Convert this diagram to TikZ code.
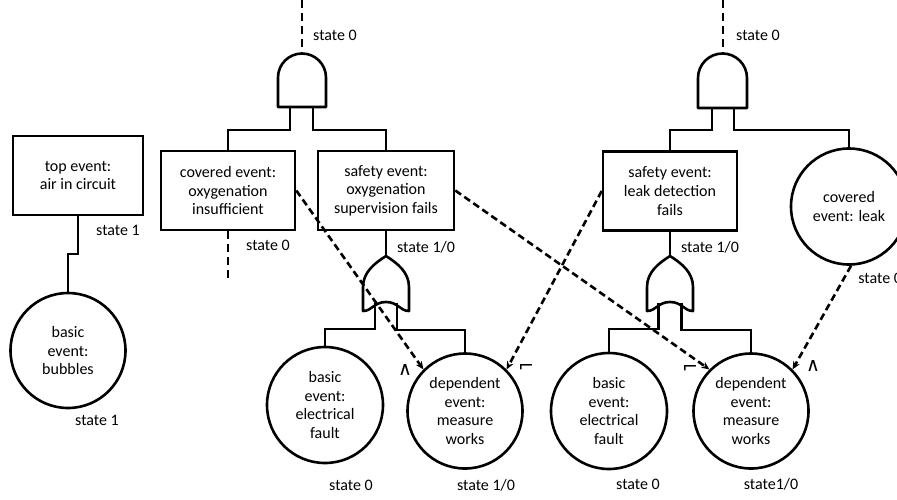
\documentclass[tikz,border=0pt]{standalone}
\usepackage{fontspec}
\setmainfont{Carlito}
\newfontfamily\symfont{DejaVu Sans}
\usetikzlibrary{arrows.meta}
\begin{document}
\begin{tikzpicture}[x=1pt,y=-1pt,line width=2.6pt,
  txt/.style={font=\fontsize{16}{18.7}\selectfont,align=center},
  evbox/.style={draw,rectangle,txt,inner sep=0pt,minimum width=134pt,minimum height=79pt},
  evcirc/.style={draw,circle,txt,inner sep=0pt,minimum size=115pt},
  lbl/.style={font=\fontsize{16}{18.7}\selectfont,inner sep=0pt},
  sym/.style={font=\symfont\fontsize{19}{19}\selectfont,inner sep=0pt},
  dashline/.style={dash pattern=on 8pt off 5pt},
  dasharrow/.style={dash pattern=on 7pt off 4pt,-{Stealth[length=8pt,width=7pt]}},
  gate/.style={line join=round},
  wire/.style={line join=miter}]
\useasboundingbox (0,0) rectangle (897,499);
\clip (0,0) rectangle (897,499);
\fill[white] (0,0) rectangle (897,499);

% ---------- left tree ----------
\node[evbox,minimum width=130pt] (top) at (78,175.5) {top event:\\air in circuit};
\node[evcirc] (bub) at (68,350.5) {basic\\event:\\bubbles};
\draw[wire] (top.south) -- (78,254) -- (68,254) -- (bub.north);
\node[lbl] (s1a) at (118,230) {state 1};
\node[lbl] (s1b) at (97,420) {state 1};

% ---------- middle AND ----------
\coordinate (andLin) at (302,0);
\coordinate (andLout) at (302,53.5);
\draw[gate] (278,107) -- (278,77.5) arc[start angle=180,end angle=0,radius=24pt] -- (326,107) -- cycle;
\draw[dashline] (andLin) -- (andLout);
\node[lbl] (sL0) at (335,35) {state 0};
\coordinate (andLa) at (290,107);
\coordinate (andLb) at (313,107);

\node[evbox] (covoxy) at (228,190.5) {covered event:\\oxygenation\\insufficient};
\node[evbox,minimum width=136pt] (safoxy) at (386,190.5) {safety event:\\oxygenation\\supervision fails};
\draw[wire] (andLa) -- (290,130) -| (covoxy.north);
\draw[wire] (andLb) -- (313,130) -| (safoxy.north);

\coordinate (covoxyend) at (228,281);
\draw[dashline] (covoxy.south) -- (covoxyend);
\node[lbl] (sC0) at (268,245) {state 0};

% left OR gate
\draw[gate] (363,311) -- (363,287) .. controls (363,272) and (375,263) .. (386,256)
  .. controls (397,263) and (409,272) .. (409,287) -- (409,311)
  .. controls (400,311) and (398,302) .. (386,302)
  .. controls (374,302) and (372,311) .. (363,311) -- cycle;
\coordinate (orLtip) at (386,256);
\coordinate (orLa) at (375,303);
\coordinate (orLb) at (397,303);
\draw (safoxy.south) -- (orLtip);
\node[lbl] (sL10) at (426,247) {state 1/0};

\node[evcirc,minimum size=116pt] (basL) at (325,405) {basic\\event:\\electrical\\fault};
\node[evcirc] (depL) at (465,411) {dependent\\event:\\measure\\works};
\draw[wire] (orLa) -- (375,329) -| (basL.north);
\draw[wire] (orLb) -- (397,330) -| (depL.north);
\node[lbl] (sbL0) at (351,485) {state 0};
\node[lbl] (sbL10) at (486,485) {state 1/0};
\node[sym] (wL) at (405,370) {∧};
\node[sym] (nL) at (526,368) {⌐};

% ---------- right AND ----------
\coordinate (andRin) at (723,0);
\coordinate (andRout) at (723,53.5);
\draw[gate] (698,108) -- (698,78) arc[start angle=180,end angle=0,radius=24.5pt] -- (747,108) -- cycle;
\draw[dashline] (andRin) -- (andRout);
\node[lbl] (sR0) at (758,35) {state 0};
\coordinate (andRa) at (712,108);
\coordinate (andRb) at (734,108);

\node[evbox] (safleak) at (670,191) {safety event:\\leak detection\\fails};
\node[evcirc,minimum size=116pt] (leak) at (849,206.5) {covered\\event: leak};
\draw[wire] (andRa) -- (712,130) -| (safleak.north);
\draw[wire] (andRb) -- (734,130) -| (leak.north);
\node[lbl,anchor=west] (sleak) at (857,278) {state 0};

% right OR gate
\draw[gate] (647,311) -- (647,287) .. controls (647,272) and (659,263) .. (670,256)
  .. controls (681,263) and (693,272) .. (693,287) -- (693,311)
  .. controls (684,311) and (682,302) .. (670,302)
  .. controls (658,302) and (656,311) .. (647,311) -- cycle;
\coordinate (orRtip) at (670,256);
\coordinate (orRa) at (658.5,303);
\coordinate (orRb) at (681.5,303);
\draw (safleak.south) -- (orRtip);
\node[lbl] (sR10) at (710,247) {state 1/0};

\node[evcirc,minimum size=116pt] (basR) at (609,411) {basic\\event:\\electrical\\fault};
\node[evcirc] (depR) at (751,411) {dependent\\event:\\measure\\works};
\draw[wire] (orRa) -- (658.5,329) -| (basR.north);
\draw[wire] (orRb) -- (681.5,330) -| (depR.north);
\node[lbl] (sbR0) at (638,484) {state 0};
\node[lbl] (sbR10) at (771,484) {state1/0};
\node[sym] (nR) at (690,369) {⌐};
\node[sym] (wR) at (813,366) {∧};

% ---------- dependency arrows ----------
\draw[dasharrow] (covoxy.east) -- (depL.135);
\draw[dasharrow] (safleak.west) -- (depL.45);
\draw[dasharrow] (safoxy.east) -- (depR.135);
\draw[dasharrow] (leak.-88) -- (depR.45);
\end{tikzpicture}
\end{document}
